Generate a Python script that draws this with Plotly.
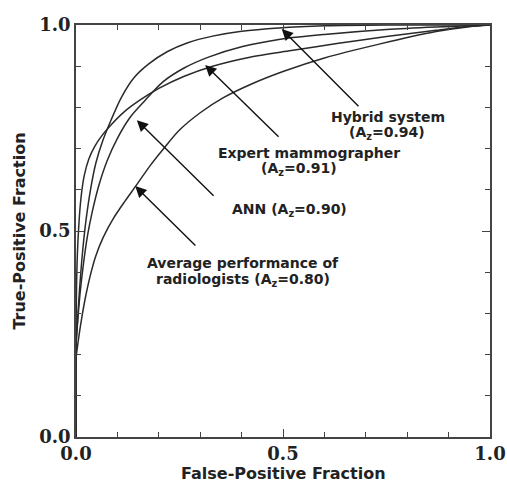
import plotly.graph_objects as go

# ---- data ----
hybrid_fpf = [0, 0.0, 0.003, 0.008, 0.015, 0.024, 0.035, 0.048, 0.065, 0.085, 0.11, 0.14, 0.175, 0.22, 0.27, 0.33, 0.40, 0.49, 0.60, 0.75, 1.0]
hybrid_tpf = [0, 0.22, 0.27, 0.35, 0.44, 0.525, 0.60, 0.665, 0.72, 0.77, 0.825, 0.872, 0.905, 0.935, 0.957, 0.973, 0.985, 0.993, 0.998, 1.0, 1.0]

expert_fpf = [0, 0.0, 0.002, 0.006, 0.012, 0.02, 0.031, 0.045, 0.063, 0.085, 0.115, 0.155, 0.20, 0.26, 0.33, 0.42, 0.52, 0.63, 0.75, 0.87, 0.95, 1.0]
expert_tpf = [0, 0.22, 0.40, 0.50, 0.58, 0.635, 0.675, 0.705, 0.732, 0.758, 0.788, 0.818, 0.846, 0.875, 0.900, 0.922, 0.938, 0.955, 0.972, 0.987, 0.997, 1.0]

ann_fpf = [0, 0.0, 0.004, 0.01, 0.018, 0.028, 0.04, 0.055, 0.075, 0.10, 0.13, 0.165, 0.21, 0.26, 0.32, 0.40, 0.49, 0.60, 0.75, 0.87, 0.95, 1.0]
ann_tpf = [0, 0.22, 0.28, 0.35, 0.42, 0.49, 0.55, 0.61, 0.67, 0.725, 0.775, 0.815, 0.862, 0.895, 0.922, 0.947, 0.965, 0.977, 0.989, 0.995, 0.998, 1.0]

avg_fpf = [0, 0.0, 0.003, 0.007, 0.014, 0.022, 0.034, 0.048, 0.066, 0.09, 0.118, 0.145, 0.18, 0.21, 0.25, 0.30, 0.355, 0.42, 0.50, 0.60, 0.73, 0.87, 0.95, 1.0]
avg_tpf = [0, 0.19, 0.215, 0.245, 0.29, 0.335, 0.39, 0.44, 0.485, 0.53, 0.572, 0.61, 0.66, 0.698, 0.745, 0.787, 0.823, 0.855, 0.887, 0.92, 0.953, 0.984, 0.996, 1.0]

tick_vals = [0.0, 0.5, 1.0]
tick_text = ["0.0", "0.5", "1.0"]
minor_vals = [0.1, 0.2, 0.3, 0.4, 0.6, 0.7, 0.8, 0.9]
x_title = "False-Positive Fraction"
y_title = "True-Positive Fraction"

labels = [
    # (text, x, y)
    ("Hybrid system", 0.754, 0.777),
    ("(A<sub>z</sub>=0.94)", 0.752, 0.738),
    ("Expert mammographer", 0.563, 0.690),
    ("(A<sub>z</sub>=0.91)", 0.539, 0.650),
    ("ANN (A<sub>z</sub>=0.90)", 0.515, 0.551),
    ("Average performance of", 0.403, 0.422),
    ("radiologists (A<sub>z</sub>=0.80)", 0.403, 0.382),
]
# arrows: (tip_x, tip_y, tail_x, tail_y)
arrows = [
    (0.497, 0.990, 0.686, 0.799),
    (0.312, 0.903, 0.493, 0.725),
    (0.147, 0.769, 0.336, 0.582),
    (0.143, 0.609, 0.292, 0.461),
]

LINE = "#2a2a2a"
fig = go.Figure()
for xs, ys in [(hybrid_fpf, hybrid_tpf), (expert_fpf, expert_tpf), (ann_fpf, ann_tpf), (avg_fpf, avg_tpf)]:
    fig.add_trace(go.Scatter(x=xs, y=ys, mode="lines",
                             line=dict(color=LINE, width=1.5, shape="spline", smoothing=0.8),
                             showlegend=False, hoverinfo="skip"))

anns = []
for t, x, y in labels:
    anns.append(dict(text="<b>" + t + "</b>", x=x, y=y, xref="x", yref="y", showarrow=False,
                     font=dict(family="DejaVu Sans", size=14, color="#222")))
for tx, ty, sx, sy in arrows:
    anns.append(dict(text="", x=tx, y=ty, ax=sx, ay=sy, xref="x", yref="y", axref="x", ayref="y",
                     showarrow=True, arrowhead=2, arrowsize=1.6, arrowwidth=1.4, arrowcolor="#111"))
# x-axis title placed below tick labels
anns.append(dict(text="<b>" + x_title + "</b>", x=0.5, y=-0.088, xref="paper", yref="paper",
                 showarrow=False, yanchor="middle",
                 font=dict(family="DejaVu Sans", size=16, color="#222")))

axis_common = dict(range=[0, 1], tickvals=tick_vals, ticktext=tick_text, ticks="inside", ticklen=8,
                   tickwidth=1.2, tickcolor="#444", showgrid=False, zeroline=False,
                   showline=True, linecolor="#444", linewidth=1.5, mirror="allticks",
                   tickfont=dict(family="DejaVu Serif", size=18, color="#222", weight="bold"),
                   minor=dict(tickvals=minor_vals, ticks="inside", ticklen=5, tickwidth=1.2, tickcolor="#444"))

fig.update_layout(
    width=507, height=482,
    margin=dict(l=76, r=17, t=25, b=45, autoexpand=False),
    paper_bgcolor="white", plot_bgcolor="white",
    xaxis=dict(**axis_common),
    yaxis=dict(**axis_common,
               title=dict(text="<b>" + y_title + "</b>", standoff=10,
                          font=dict(family="DejaVu Sans", size=16, color="#222"))),
    annotations=anns,
)
fig.write_html("out.html")
